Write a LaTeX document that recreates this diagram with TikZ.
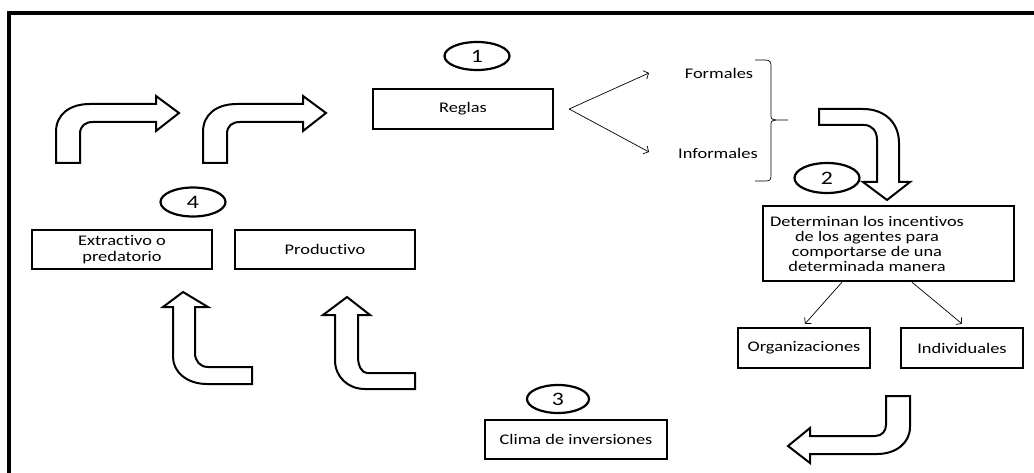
\documentclass[tikz,border=0pt]{standalone}
\usepackage{fontspec}
\setmainfont[FakeStretch=1.25,Ligatures={NoCommon}]{Carlito}
\usetikzlibrary{shapes.geometric,arrows.meta}
\begin{document}
\begin{tikzpicture}[x=1pt,y=-1pt,
  box/.style={draw,line width=2.4pt,inner sep=0pt,align=center,font=\fontsize{14.7}{15.5}\selectfont},
  num/.style={draw,ellipse,line width=2.2pt,inner sep=0pt,font=\fontsize{19}{20}\selectfont},
  lbl/.style={inner sep=0pt,align=center,font=\fontsize{14.7}{15}\selectfont},
  blk/.style={draw,line width=2pt,fill=white,line join=miter},
  thinarr/.style={draw,line width=0.7pt,-{Straight Barb[length=4pt,width=9pt]}}]
\useasboundingbox (0,0) rectangle (1034,473);
\fill[white] (0,0) rectangle (1034,473);
% frame
\draw[line width=4pt] (9,473) -- (9,13) -- (1034,13);

% boxes
\node[box,minimum width=180pt,minimum height=40pt] (reglas) at (463,109) {Reglas};
\node[box,minimum width=251pt,minimum height=75pt] (det) at (888.5,243.5) {};
\node[lbl] (dettext) at (867,244) {Determinan los incentivos\\de los agentes para\\comportarse de una\\determinada manera};
\node[box,minimum width=132pt,minimum height=40pt] (org) at (804,348) {Organizaciones};
\node[box,minimum width=122pt,minimum height=40pt] (ind) at (962,348) {Individuales};
\node[box,minimum width=182pt,minimum height=39pt] (clima) at (576,439.5) {Clima de inversiones};
\node[box,minimum width=180pt,minimum height=39pt] (extr) at (122,249.5) {Extractivo o\\predatorio};
\node[box,minimum width=180pt,minimum height=39pt] (prod) at (325,249.5) {Productivo};

% numbered ellipses
\node[num,minimum width=65pt,minimum height=28pt] (e1) at (477,56) {1};
\node[num,minimum width=65pt,minimum height=30pt] (e2) at (827,178) {2};
\node[num,minimum width=62pt,minimum height=28pt] (e3) at (558,399) {3};
\node[num,minimum width=65pt,minimum height=29pt] (e4) at (193,202) {4};

% formales / informales
\node[lbl] (formales) at (719,73) {Formales};
\node[lbl] (informales) at (718,153) {Informales};
\coordinate (rs) at ([xshift=15pt]reglas.east);
\coordinate (fa) at (649,73);
\coordinate (ia) at (649,152);
\draw[thinarr] (rs) -- (fa);
\draw[thinarr] (rs) -- (ia);

% brace
\draw[line width=0.7pt] (755,60) -- (765,60) .. controls (770,60) and (771,62) .. (771,66)
  -- (771,114) .. controls (771,119) .. (776,120) -- (788,120);
\draw[line width=0.7pt] (776,120) .. controls (771,121) .. (771,126) -- (771,175)
  .. controls (771,180) and (770,181) .. (765,181) -- (755,181);

% arrows from det
\draw[thinarr] ([xshift=-46.5pt]det.south) -- ([xshift=1pt,yshift=3pt]org.north);
\draw[thinarr] ([xshift=23.5pt]det.south) -- ([yshift=3pt]ind.north);

% block arrows top-left
\foreach \dx in {0,147} {
  \draw[blk] (56+\dx,163) -- (56+\dx,132) .. controls (56+\dx,114) and (70+\dx,104) .. (90+\dx,104)
    -- (156+\dx,104) -- (156+\dx,96) -- (179+\dx,113) -- (156+\dx,131) -- (156+\dx,122)
    -- (93+\dx,122) .. controls (85+\dx,122) and (80+\dx,126) .. (80+\dx,134) -- (80+\dx,163) -- cycle;
}
% down arrow
\draw[blk] (819,109) -- (863,109) .. controls (885,109) and (899,123) .. (899,143) -- (899,182)
  -- (910,182) -- (887,200) -- (863,182) -- (877,182) -- (877,140)
  .. controls (877,131) and (872,125) .. (864,125) -- (819,125) -- cycle;
% left arrow
\draw[blk] (886,396) -- (910,396) -- (910,427) .. controls (910,443) and (896,454) .. (877,454)
  -- (810,454) -- (810,463) -- (788,446) -- (810,428) -- (810,436) -- (875,436)
  .. controls (882,436) and (886,431) .. (886,425) -- cycle;
% up arrows
\draw[blk] (183,292) -- (208,307) -- (195,307) -- (195,353) .. controls (195,361) and (200,367) .. (208,367)
  -- (252,367) -- (252,384) -- (207,384) .. controls (187,384) and (173,372) .. (173,357)
  -- (173,307) -- (163,307) -- cycle;
\draw[blk] (347,297) -- (370,315) -- (358,315) -- (358,357) .. controls (358,366) and (362,373) .. (367,373)
  -- (415,373) -- (415,389) -- (365,389) .. controls (348,389) and (335,377) .. (335,360)
  -- (335,315) -- (323,315) -- cycle;
\end{tikzpicture}
\end{document}
